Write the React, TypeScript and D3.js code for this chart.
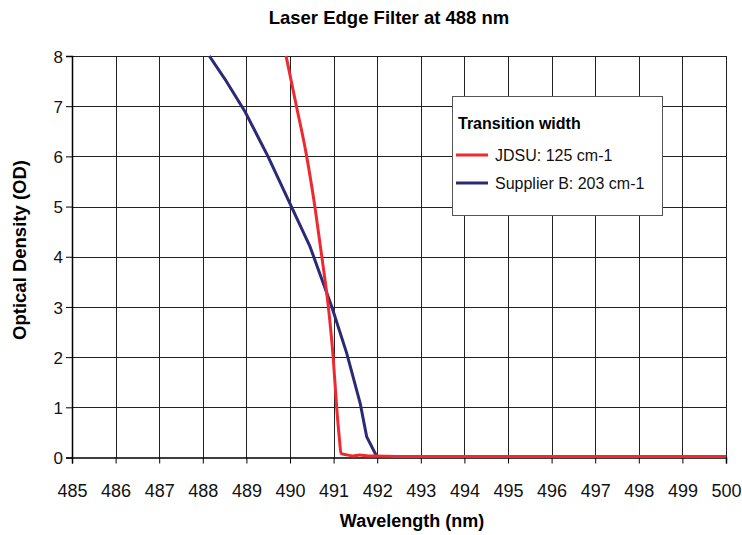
import React, { useRef, useEffect } from "react";
import * as d3 from "d3";

// wavelength (nm) / optical density
const jdsuWavelength = [489.91, 490.15, 490.37, 490.57, 490.73, 490.88, 490.99, 491.07, 491.13, 491.17, 491.26, 491.45, 491.6, 491.8, 492.0, 492.5, 493, 494, 495, 496, 497, 498, 499, 500];
const jdsuOD = [8.0, 6.99, 6.06, 5.0, 4.0, 3.0, 2.0, 1.01, 0.4, 0.08, 0.06, 0.03, 0.05, 0.03, 0.03, 0.02, 0.02, 0.02, 0.02, 0.02, 0.02, 0.02, 0.02, 0.02];

const supplierBWavelength = [488.15, 488.5, 488.97, 489.5, 490.0, 490.46, 490.96, 491.3, 491.61, 491.76, 491.99, 493, 500];
const supplierBOD = [8.0, 7.55, 6.89, 5.99, 5.06, 4.2, 3.0, 2.08, 1.08, 0.41, 0.02, 0.02, 0.02];

const xTicks = d3.range(485, 501);
const yTicks = d3.range(0, 9);

const series = [
    { name: "JDSU: 125 cm-1", wl: jdsuWavelength, od: jdsuOD, color: "#ee2a30", curve: d3.curveMonotoneX },
    { name: "Supplier B: 203 cm-1", wl: supplierBWavelength, od: supplierBOD, color: "#2a2a76", curve: d3.curveLinear },
];

const FONT = "'Liberation Sans', Arial, sans-serif";

const App: React.FC = () => {
    const svgRef = useRef<SVGSVGElement | null>(null);

    useEffect(() => {
        if (!svgRef.current) return;
        const svg = d3.select(svgRef.current);
        svg.selectAll("*").remove();

        const left = 72, right = 726, top = 56, bottom = 457.5;
        const x = d3.scaleLinear().domain([485, 500]).range([left, right]);
        const y = d3.scaleLinear().domain([0, 8]).range([bottom, top]);

        // grid
        const grid = svg.append("g").attr("stroke", "#222").attr("stroke-width", 1);
        grid.selectAll("line.h")
            .data(yTicks.filter((d) => d > 0))
            .enter()
            .append("line")
            .attr("x1", left)
            .attr("x2", right)
            .attr("y1", (d) => Math.round(y(d)) + 0.5)
            .attr("y2", (d) => Math.round(y(d)) + 0.5);
        grid.selectAll("line.v")
            .data(xTicks.filter((d) => d > 485))
            .enter()
            .append("line")
            .attr("y1", top)
            .attr("y2", bottom)
            .attr("x1", (d) => Math.round(x(d)) + 0.5)
            .attr("x2", (d) => Math.round(x(d)) + 0.5);

        // axes
        const xAxis = d3.axisBottom(x).tickValues(xTicks).tickSize(6).tickFormat(d3.format("d"));
        const xg = svg.append("g").attr("transform", `translate(0,${bottom})`).call(xAxis);
        xg.select(".domain").attr("stroke", "#000").attr("stroke-width", 1.5);
        xg.selectAll(".tick line").attr("stroke", "#000");
        xg.selectAll(".tick text")
            .attr("y", 39)
            .attr("dy", null)
            .style("font-family", FONT)
            .style("font-size", "18px")
            .attr("fill", "#111");

        const yAxis = d3.axisLeft(y).tickValues(yTicks).tickSize(6).tickFormat(d3.format("d"));
        const yg = svg.append("g").attr("transform", `translate(${left},0)`).call(yAxis);
        yg.select(".domain").attr("stroke", "#000").attr("stroke-width", 1.5);
        yg.selectAll(".tick line").attr("stroke", "#000");
        yg.selectAll(".tick text")
            .attr("x", -9)
            .attr("dy", "0.36em")
            .style("font-family", FONT)
            .style("font-size", "17px")
            .attr("fill", "#111");

        // series: blue first so red sits on top along the baseline
        [...series].reverse().forEach((s) => {
            const line = d3.line<[number, number]>()
                .x((d) => x(d[0]))
                .y((d) => y(d[1]))
                .curve(s.curve);
            const pts = s.wl.map((w, i) => [w, s.od[i]] as [number, number]);
            svg.append("path")
                .datum(pts)
                .attr("d", line)
                .attr("fill", "none")
                .attr("stroke", s.color)
                .attr("stroke-width", 3)
                .attr("stroke-linejoin", "round");
        });

        // titles
        svg.append("text")
            .attr("x", 389)
            .attr("y", 24)
            .attr("text-anchor", "middle")
            .style("font-family", FONT)
            .style("font-size", "18.5px")
            .style("font-weight", "bold")
            .text("Laser Edge Filter at 488 nm");

        svg.append("text")
            .attr("x", 412)
            .attr("y", 527)
            .attr("text-anchor", "middle")
            .style("font-family", FONT)
            .style("font-size", "18px")
            .style("font-weight", "bold")
            .text("Wavelength (nm)");

        svg.append("text")
            .attr("transform", "translate(26,250) rotate(-90)")
            .attr("text-anchor", "middle")
            .style("font-family", FONT)
            .style("font-size", "18.5px")
            .style("font-weight", "bold")
            .text("Optical Density (OD)");

        // legend
        const legend = svg.append("g");
        legend.append("rect")
            .attr("x", 452.5)
            .attr("y", 96.5)
            .attr("width", 210)
            .attr("height", 119)
            .attr("fill", "#fff")
            .attr("stroke", "#555")
            .attr("stroke-width", 1);
        legend.append("text")
            .attr("x", 458)
            .attr("y", 129)
            .style("font-family", FONT)
            .style("font-size", "16px")
            .style("font-weight", "bold")
            .text("Transition width");
        const items = legend.selectAll("g.item")
            .data(series)
            .enter()
            .append("g")
            .attr("transform", (d, i) => `translate(0,${155 + i * 28})`);
        items.append("line")
            .attr("x1", 456)
            .attr("x2", 488)
            .attr("stroke", (d) => d.color)
            .attr("stroke-width", 3);
        items.append("text")
            .attr("x", 495)
            .attr("y", 6)
            .style("font-family", FONT)
            .style("font-size", "16px")
            .attr("fill", "#111")
            .text((d) => d.name);
    }, []);

    return (
        <svg
            ref={svgRef}
            width={742}
            height={535}
            style={{ position: "absolute", left: 0, top: 0, background: "#fff" }}
        />
    );
};

export default App;
